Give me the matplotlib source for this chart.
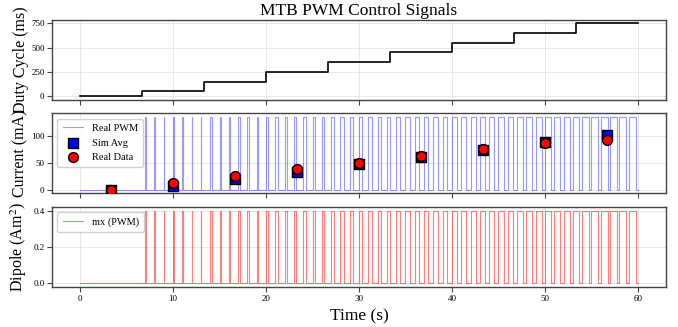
import numpy as np
import matplotlib
matplotlib.use("Agg")
import matplotlib.pyplot as plt

plt.rcParams['font.family'] = ['Liberation Serif', 'DejaVu Serif']
plt.rcParams['mathtext.fontset'] = 'stix'

# ---- data ----
step_times = [0, 6.667, 13.333, 20.0, 26.667, 33.333, 40.0, 46.667, 53.333, 60.0]
duty_ms = [0, 50, 150, 250, 350, 450, 550, 650, 750]
pwm_period_s = 1.0
current_on_mA = 135.0
dipole_on = 0.4
sample_t = [3.333, 10.0, 16.667, 23.333, 30.0, 36.667, 43.333, 50.0, 56.667]
sim_avg = [0, 6.75, 20.25, 33.75, 47.25, 60.75, 74.25, 87.75, 101.25]
real_data = [0, 12.6, 25.0, 38.5, 50.0, 62.0, 75.0, 86.0, 92.5]

# build PWM waveform from duty levels
t_pts = [0.0]
on_pts = [0.0]
for k in range(int(step_times[-1] / pwm_period_s)):
    start = k * pwm_period_s
    seg = max(i for i in range(len(duty_ms)) if step_times[i] <= start + 1e-9)
    d = duty_ms[seg] / 1000.0
    if d > 0:
        t_pts += [start, start, start + d, start + d]
        on_pts += [0, 1, 1, 0]
t_pts.append(step_times[-1])
on_pts.append(0)
t_pts = np.array(t_pts)
on_pts = np.array(on_pts)

fig, axes = plt.subplots(3, 1, figsize=(6.78, 3.27), dpi=100, sharex=True)
fig.subplots_adjust(left=0.077, right=0.982, top=0.94, bottom=0.122, hspace=0.17)

spine_col = '#444444'
for ax in axes:
    ax.grid(True, color='#dddddd', linewidth=0.6, alpha=0.8)
    ax.set_axisbelow(True)
    for s in ax.spines.values():
        s.set_color(spine_col)
        s.set_linewidth(1.0)
    ax.tick_params(labelsize=6.5, length=3.5, width=0.8, color=spine_col, pad=2)

ax1, ax2, ax3 = axes
ax1.step(step_times, duty_ms + [duty_ms[-1]], where='post', color='black', linewidth=1.2)
ax1.set_ylabel('Duty Cycle (ms)', fontsize=11.5)
ax1.set_title('MTB PWM Control Signals', fontsize=12.5, pad=3)
ax1.set_yticks([0, 250, 500, 750])

ax2.plot(t_pts, on_pts * current_on_mA, color='blue', linewidth=0.8, alpha=0.4, label='Real PWM')
ax2.scatter(sample_t, sim_avg, marker='s', s=50, color='blue', edgecolors='black', linewidths=1.0, zorder=3, label='Sim Avg')
ax2.scatter(sample_t, real_data, marker='o', s=50, color='red', edgecolors='black', linewidths=1.0, zorder=4, label='Real Data')
ax2.set_ylabel('Current (mA)', fontsize=11.5)
ax2.set_yticks([0, 50, 100])
ax2.legend(loc='upper left', fontsize=7.5, framealpha=0.9, borderpad=0.5, handlelength=2.0)

ax3.plot(t_pts, on_pts * dipole_on, color='red', linewidth=0.8, alpha=0.5, label='mx (PWM)')
ax3.set_ylabel('Dipole (Am$^2$)', fontsize=11.5)
ax3.set_yticks([0.0, 0.2, 0.4])
ax3.set_xlabel('Time (s)', fontsize=12.5)
ax3.set_xticks([0, 10, 20, 30, 40, 50, 60])
ax3.legend(loc='upper left', fontsize=7.5, framealpha=0.9, borderpad=0.5, handlelength=2.0)

for ax in axes:
    ax.yaxis.set_label_coords(-0.038, 0.5)

fig.savefig('out.png', dpi=100)
